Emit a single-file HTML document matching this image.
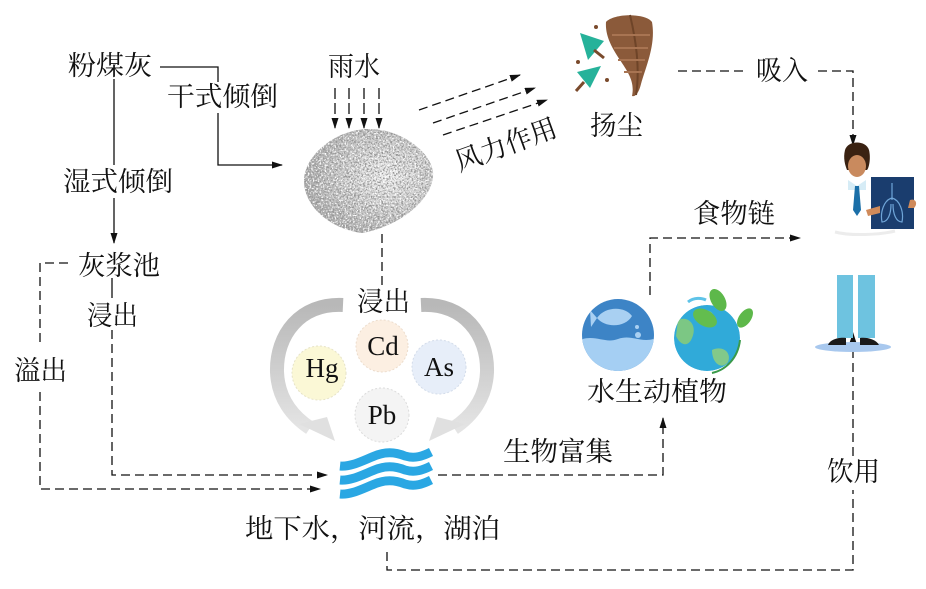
<!DOCTYPE html>
<html><head><meta charset="utf-8"><style>
html,body{margin:0;padding:0;background:#fff;}
svg{display:block;}
.t{font-family:"Liberation Serif","Noto Serif CJK SC",serif;font-size:27px;fill:#111;}
.m{font-family:"Liberation Serif",serif;font-size:27px;fill:#111;}
.s{stroke:#111;stroke-width:1.3;fill:none;}
.d{stroke:#111;stroke-width:1.3;fill:none;stroke-dasharray:9 5;}
</style></head><body>
<svg width="926" height="589" viewBox="0 0 926 589" xmlns="http://www.w3.org/2000/svg">
<defs>
<marker id="a" markerUnits="userSpaceOnUse" markerWidth="11" markerHeight="8" refX="10" refY="3.5" orient="auto">
<path d="M0,0 L11,3.5 L0,7 Z" fill="#111"/></marker>
<radialGradient id="pg" cx="0.64" cy="0.45" r="0.62">
<stop offset="0" stop-color="#f0f0f0"/><stop offset="0.5" stop-color="#cfcfcf"/><stop offset="1" stop-color="#aaaaaa"/></radialGradient>
<filter id="nz" x="0" y="0" width="1" height="1">
<feTurbulence type="fractalNoise" baseFrequency="0.55" numOctaves="3" seed="7"/>
<feColorMatrix type="matrix" values="0 0 0 0 0.3  0 0 0 0 0.3  0 0 0 0 0.3  5 0 0 0 -2.3"/>
<feComposite in2="SourceGraphic" operator="in"/>
</filter>
<filter id="nz2" x="0" y="0" width="1" height="1">
<feTurbulence type="fractalNoise" baseFrequency="0.6" numOctaves="2" seed="19"/>
<feColorMatrix type="matrix" values="0 0 0 0 1  0 0 0 0 1  0 0 0 0 1  0 5 0 0 -2.6"/>
<feComposite in2="SourceGraphic" operator="in"/>
</filter>
<linearGradient id="ag" x1="0" y1="0" x2="0" y2="1">
<stop offset="0" stop-color="#b8b8b8"/><stop offset="0.6" stop-color="#d2d2d2"/><stop offset="1" stop-color="#e4e4e4"/></linearGradient>
<clipPath id="fc"><circle cx="618" cy="335" r="36"/></clipPath>
<clipPath id="ec"><circle cx="707" cy="338" r="33"/></clipPath>
</defs>

<!-- solid connectors -->
<path class="s" d="M160,67 H218 V82"/>
<path class="s" d="M218,113 V165 H282" marker-end="url(#a)"/>
<path class="s" d="M114,79 V165"/>
<path class="s" d="M114,198 V243" marker-end="url(#a)"/>
<path class="s" d="M112,278 V298"/>

<!-- dashed connectors -->
<path class="d" d="M68,263 H40 V345"/>
<path class="d" d="M40,392 V489 H320" marker-end="url(#a)"/>
<path class="d" d="M112,330 V475 H327" marker-end="url(#a)"/>
<path class="d" style="stroke-dasharray:11 4" d="M335,88 V128" marker-end="url(#a)"/>
<path class="d" style="stroke-dasharray:11 4" d="M349,88 V128" marker-end="url(#a)"/>
<path class="d" style="stroke-dasharray:11 4" d="M364,88 V128" marker-end="url(#a)"/>
<path class="d" style="stroke-dasharray:11 4" d="M379,88 V128" marker-end="url(#a)"/>
<path class="d" d="M382,234 V286"/>
<path class="d" d="M419,110 L520,75" marker-end="url(#a)"/>
<path class="d" d="M433,123 L535,88" marker-end="url(#a)"/>
<path class="d" d="M443,135 L547,100" marker-end="url(#a)"/>
<path class="d" d="M438,475 H663 V418" marker-end="url(#a)"/>
<path class="d" d="M650,295 V238 H800" marker-end="url(#a)"/>
<path class="d" d="M678,71 H748"/>
<path class="d" d="M818,71 H853 V145" marker-end="url(#a)"/>
<path class="d" d="M387,552 V570 H853 V490"/>
<path class="d" d="M853,456 V333" marker-end="url(#a)"/>

<!-- sand pile -->
<path id="pile" d="M367,129 C398,128 430,150 433,172 C435,197 402,226 362,233 C330,229 304,206 304,181 C304,155 336,130 367,129 Z" fill="url(#pg)"/>
<path d="M367,129 C398,128 430,150 433,172 C435,197 402,226 362,233 C330,229 304,206 304,181 C304,155 336,130 367,129 Z" fill="#777" filter="url(#nz)"/>
<path d="M367,129 C398,128 430,150 433,172 C435,197 402,226 362,233 C330,229 304,206 304,181 C304,155 336,130 367,129 Z" fill="#fff" filter="url(#nz2)"/>

<!-- gray circular arrows -->
<path d="M343,305 C300,303 276,335 277,372 C278,398 292,416 310,428" fill="none" stroke="url(#ag)" stroke-width="14"/>
<polygon points="299,424 327,417 335,441" fill="#e0e0e0"/>
<path d="M421,305 C464,303 488,335 487,372 C486,398 472,416 454,428" fill="none" stroke="url(#ag)" stroke-width="14"/>
<polygon points="465,424 437,417 429,441" fill="#e0e0e0"/>

<!-- metal circles -->
<circle cx="319" cy="373" r="27" fill="#fbf8d6" stroke="#e6e3c8" stroke-dasharray="2 2"/>
<circle cx="382" cy="346" r="26" fill="#fcefe2" stroke="#ecdccc" stroke-dasharray="2 2"/>
<circle cx="439" cy="367" r="27" fill="#e7eef9" stroke="#d3dcea" stroke-dasharray="2 2"/>
<circle cx="382" cy="415" r="27" fill="#f4f4f4" stroke="#dcdcdc" stroke-dasharray="2 2"/>
<text class="m" x="322" y="377" text-anchor="middle">Hg</text>
<text class="m" x="383" y="355" text-anchor="middle">Cd</text>
<text class="m" x="439" y="376" text-anchor="middle">As</text>
<text class="m" x="382" y="424" text-anchor="middle">Pb</text>

<!-- waves -->
<g fill="none" stroke="#2aa7e3" stroke-width="9" stroke-linecap="butt">
<path d="M340,466 C350,467 360,462 372,457 C385,451 395,452 405,456 C415,459 423,456 431,452"/>
<path d="M340,480 C350,481 360,476 372,471 C385,465 395,466 405,470 C415,473 423,470 431,466"/>
<path d="M340,494 C350,495 360,490 372,485 C385,479 395,480 405,484 C415,487 423,484 431,480"/>
</g>

<!-- tornado + green arrows -->
<path d="M606,22 C614,13 646,13 652,22 C656,45 646,66 641,84 C639,92 636,97 632,96 C635,82 628,72 620,60 C612,48 605,36 606,22 Z" fill="#8b5a3a"/>
<path d="M630,15 C636,40 640,70 636,95" stroke="#6e4428" stroke-width="2" fill="none"/>
<path d="M612,35 H650 M614,48 H648 M618,60 H645 M624,72 H642" stroke="#a87452" stroke-width="2" fill="none"/>
<polygon points="580,33 604,41 588,60" fill="#26b29a"/>
<line x1="594" y1="50" x2="604" y2="58" stroke="#7a4a2c" stroke-width="3"/>
<polygon points="601,66 577,72 590,88" fill="#26b29a"/>
<line x1="584" y1="82" x2="576" y2="91" stroke="#7a4a2c" stroke-width="3"/>
<circle cx="596" cy="27" r="2" fill="#7a4a2c"/>
<circle cx="578" cy="62" r="2" fill="#7a4a2c"/>
<circle cx="607" cy="80" r="2" fill="#7a4a2c"/>

<!-- fish circle -->
<g clip-path="url(#fc)">
<rect x="580" y="297" width="76" height="76" fill="#3d84c6"/>
<path d="M580,340 C595,334 605,344 618,339 C632,334 642,344 656,338 V375 H580 Z" fill="#a5cff3"/>
<path d="M597,318 C605,306 625,306 632,316 C625,328 605,328 597,318 Z M597,318 L590,310 L591,327 Z" fill="#a9d0f2"/>
<circle cx="637" cy="327" r="2" fill="#a9d0f2"/><circle cx="638" cy="335" r="3" fill="#a9d0f2"/>
</g>

<!-- earth -->
<path d="M688,302 C694,297 702,298 706,300" stroke="#5ec3e8" stroke-width="3" fill="none"/>
<g clip-path="url(#ec)">
<circle cx="707" cy="338" r="33" fill="#30aad9"/>
<path d="M678,320 C688,315 698,325 692,338 C688,348 680,345 676,336 Z" fill="#7cc784"/>
<path d="M712,350 C722,345 732,352 728,362 C722,370 712,364 712,350 Z" fill="#82c98a"/>
<path d="M700,312 C706,308 716,312 712,318 C706,320 700,318 700,312 Z" fill="#7cc784"/>
</g>
<path d="M740,340 C738,358 726,370 712,373" stroke="#3a9a4a" stroke-width="2" fill="none"/>
<ellipse cx="718" cy="300" rx="7" ry="12" transform="rotate(-30 718 300)" fill="#5db84a"/>
<ellipse cx="705" cy="318" rx="8" ry="13" transform="rotate(-60 705 318)" fill="#63bd4e"/>
<ellipse cx="745" cy="318" rx="6" ry="11" transform="rotate(35 745 318)" fill="#5db84a"/>

<!-- person -->
<path d="M845,150 C848,140 866,140 869,150 C871,158 869,168 867,170 L847,170 C845,165 843,158 845,150 Z" fill="#3a2212"/>
<ellipse cx="857" cy="166" rx="9" ry="11" fill="#c98a5e"/>
<path d="M847,156 C852,150 862,150 867,156 L867,150 C862,143 852,143 847,150 Z" fill="#3a2212"/>
<path d="M848,180 L857,186 L866,180 L866,190 L848,190 Z" fill="#d6ecf6"/>
<path d="M855,186 L859,186 L861,210 L857,216 L853,210 Z" fill="#1b6fa8"/>
<path d="M835,232 C850,236 880,235 895,231" stroke="#ececec" stroke-width="3" fill="none"/>
<rect x="871" y="177" width="43" height="52" fill="#1a3d6e"/>
<path d="M892,183 V200 M892,198 C884,200 880,212 882,222 C888,222 891,214 891,204 M892,198 C900,200 904,212 902,222 C896,222 893,214 893,204" stroke="#6fa5d8" stroke-width="1.2" fill="none"/>
<path d="M910,200 C916,198 918,204 914,208 L908,208 Z" fill="#d08a5a"/>
<path d="M866,210 L880,206 L880,213 L868,216 Z" fill="#d08a5a"/>
<rect x="837" y="275" width="16" height="63" fill="#6ec3e0"/>
<rect x="858" y="275" width="17" height="63" fill="#6ec3e0"/>
<ellipse cx="853" cy="347" rx="38" ry="5" fill="#a8c8ee"/>
<path d="M828,345 C830,339 840,337 846,338 L846,345 Z" fill="#1a1a1a"/>
<path d="M860,338 C866,337 876,339 879,345 L860,345 Z" fill="#1a1a1a"/>

<!-- labels -->
<text class="t" x="68" y="75" textLength="84" lengthAdjust="spacingAndGlyphs">粉煤灰</text>
<text class="t" x="167" y="106" textLength="111" lengthAdjust="spacingAndGlyphs">干式倾倒</text>
<text class="t" x="63" y="191" textLength="110" lengthAdjust="spacingAndGlyphs">湿式倾倒</text>
<text class="t" x="78" y="275" textLength="82" lengthAdjust="spacingAndGlyphs">灰浆池</text>
<text class="t" x="87" y="325" textLength="51" lengthAdjust="spacingAndGlyphs">浸出</text>
<text class="t" x="14" y="380" textLength="53" lengthAdjust="spacingAndGlyphs">溢出</text>
<text class="t" x="328" y="76" textLength="52" lengthAdjust="spacingAndGlyphs">雨水</text>
<text class="t" x="357" y="311" textLength="53" lengthAdjust="spacingAndGlyphs">浸出</text>
<text class="t" x="506" y="154" text-anchor="middle" textLength="106" lengthAdjust="spacingAndGlyphs" transform="rotate(-20 506 145)">风力作用</text>
<text class="t" x="590" y="135" textLength="53" lengthAdjust="spacingAndGlyphs">扬尘</text>
<text class="t" x="756" y="80" textLength="52" lengthAdjust="spacingAndGlyphs">吸入</text>
<text class="t" x="693" y="223" textLength="82" lengthAdjust="spacingAndGlyphs">食物链</text>
<text class="t" x="587" y="401" textLength="140" lengthAdjust="spacingAndGlyphs">水生动植物</text>
<text class="t" x="503" y="461" textLength="110" lengthAdjust="spacingAndGlyphs">生物富集</text>
<text class="t" x="827" y="481" textLength="53" lengthAdjust="spacingAndGlyphs">饮用</text>
<text class="t" x="245" y="538" textLength="255" lengthAdjust="spacingAndGlyphs">地下水，河流，湖泊</text>
</svg>
</body></html>
